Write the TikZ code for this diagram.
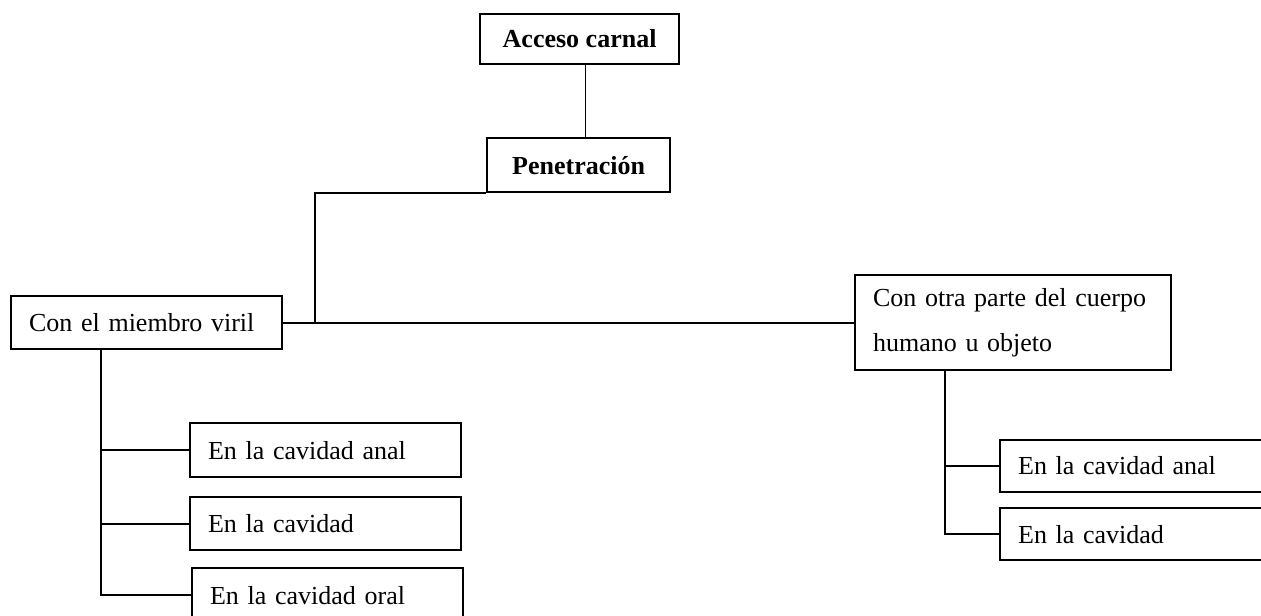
\documentclass[tikz,border=0pt]{standalone}
\usepackage{fontspec}
\setmainfont{Liberation Serif}
\begin{document}
\begin{tikzpicture}[x=0.5pt,y=-0.5pt,
  caja/.style={draw, line width=1.1pt, anchor=north west, inner xsep=9pt, inner ysep=0pt,
    align=left, font=\fontsize{13}{16}\selectfont},
  titulo/.style={draw, line width=1.1pt, anchor=north west, inner sep=0pt,
    align=center, font=\fontsize{13}{16}\selectfont\bfseries},
  rama/.style={line width=1.1pt}]
  \useasboundingbox (0,0) rectangle (1261,615);
  \clip (0,0) rectangle (1261,615);
  % cabecera
  \node[titulo, minimum width=99.5pt, minimum height=25pt] (acceso) at (479,13) {Acceso carnal};
  \node[titulo, minimum width=91.5pt, minimum height=27pt] (pen) at (486,137) {Penetración};
  % dos modos
  \node[caja, text width=117.5pt, minimum height=26.5pt] (viril) at (10,295) {Con el miembro viril};
  \node[caja, text width=140pt, minimum height=47.5pt, font=\fontsize{13}{22.5}\selectfont] (otra) at (854,274)
    {Con otra parte del cuerpo\\humano u objeto};
  % cavidades
  \node[caja, text width=117.5pt, minimum height=27pt] (anal1) at (189,422) {En la cavidad anal};
  \node[caja, text width=117.5pt, minimum height=26.5pt] (cav1) at (189,496) {En la cavidad};
  \node[caja, text width=117.5pt, minimum height=27pt] (oral1) at (191,567) {En la cavidad oral};
  \node[caja, text width=117.5pt, minimum height=26pt] (anal2) at (999,439) {En la cavidad anal};
  \node[caja, text width=117.5pt, minimum height=26pt] (cav2) at (999,507) {En la cavidad};
  % uniones
  \coordinate (nudo) at (315,322);
  \draw[line width=0.8pt] ([xshift=3pt]acceso.south) -- ([xshift=3pt]acceso.south |- pen.north);
  \draw[rama] (pen.south west) -| (nudo);
  \draw[rama] (viril.east) -- (otra.west);
  \foreach \n in {anal1,cav1,oral1}
    \draw[rama] ([xshift=-22.75pt]viril.south) |- (\n.west);
  \foreach \n in {anal2,cav2}
    \draw[rama] ([xshift=-34pt]otra.south) |- (\n.west);
\end{tikzpicture}
\end{document}
